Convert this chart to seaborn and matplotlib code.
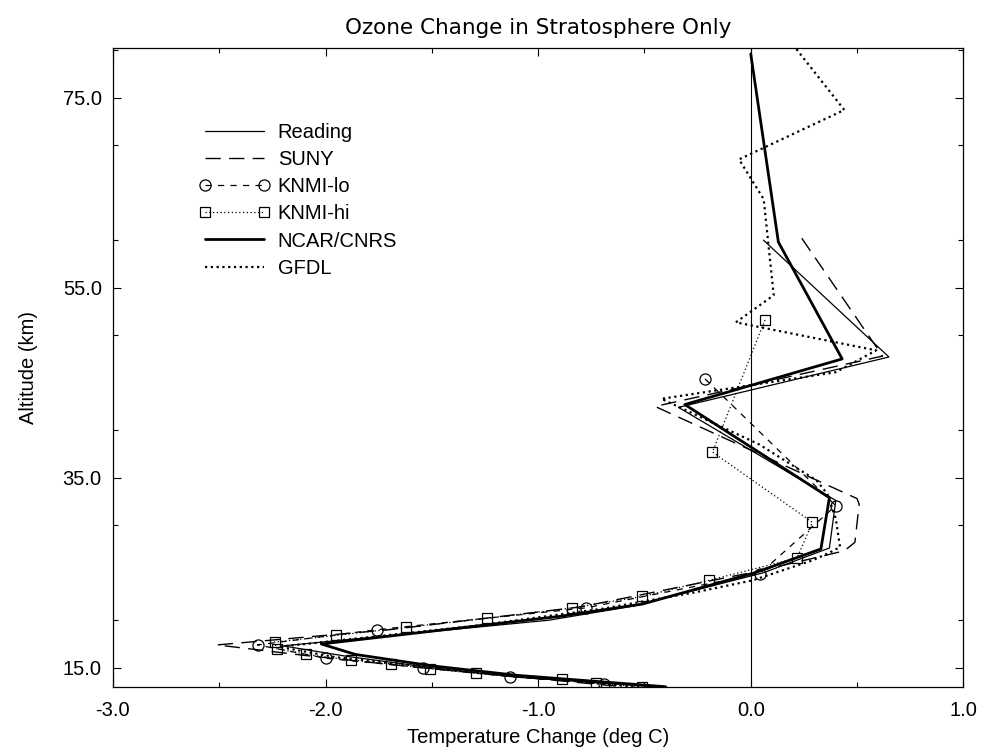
import matplotlib
matplotlib.use("Agg")
import matplotlib.pyplot as plt
import seaborn as sns
import pandas as pd
from matplotlib.ticker import MultipleLocator

# ---- data (temperature change in deg C, altitude in km) ----
reading_x = [0.06, 0.65, -0.34, 0.40, 0.37, 0.06, -0.55, -0.95, -2.20, -1.90, -1.50, -1.10, -0.45]
reading_z = [60.0, 47.7, 42.4, 32.6, 27.6, 25.0, 21.5, 20.0, 17.3, 16.2, 15.0, 14.0, 13.0]

suny_x = [0.24, 0.62, -0.45, 0.50, 0.51, 0.49, 0.44, 0.29, 0.00, -0.80, -1.70, -2.51, -2.10, -1.55, -0.60]
suny_z = [60.2, 47.8, 42.5, 32.8, 32.2, 28.2, 27.3, 26.5, 25.0, 21.4, 19.0, 17.4, 16.3, 15.0, 13.0]

knmilo_x = [-0.215, 0.40, 0.042, -0.775, -1.76, -2.32, -2.00, -1.54, -1.13, -0.69]
knmilo_z = [45.4, 32.05, 24.9, 21.3, 19.0, 17.4, 16.0, 15.0, 14.05, 13.3]

knmihi_x = [0.067, -0.18, 0.29, 0.218, -0.196, -0.51, -0.84, -1.24, -1.62, -1.95, -2.24, -2.23,
            -2.09, -1.88, -1.69, -1.51, -1.29, -0.89, -0.73, -0.51]
knmihi_z = [51.6, 37.7, 30.3, 26.55, 24.2, 22.5, 21.3, 20.2, 19.25, 18.4, 17.7, 17.0,
            16.4, 15.8, 15.4, 14.9, 14.4, 13.8, 13.35, 13.0]

ncar_x = [0.00, 0.13, 0.43, -0.31, 0.37, 0.33, 0.02, -0.51, -0.90, -2.02, -1.86, -1.50, -1.10, -0.40]
ncar_z = [79.6, 59.8, 47.5, 42.7, 32.9, 27.5, 25.0, 21.7, 20.4, 17.5, 16.4, 15.2, 14.2, 13.0]

gfdl_x = [0.215, 0.44, -0.055, 0.061, 0.108, -0.07, 0.59, 0.40, -0.42, 0.04, 0.31, 0.36,
          0.40, 0.42, 0.37, 0.29, 0.01, -0.27, -0.70, -1.30, -2.22, -1.95, -1.30, -0.55]
gfdl_z = [80.1, 73.7, 68.5, 64.3, 54.2, 51.35, 48.4, 46.1, 43.3, 38.5, 34.7, 33.3,
          30.7, 27.7, 27.1, 26.3, 24.2, 22.9, 21.2, 19.4, 17.2, 16.1, 14.6, 13.0]

series_names = ["Reading", "SUNY", "KNMI-lo", "KNMI-hi", "NCAR/CNRS", "GFDL"]
x_ticks = [-3.0, -2.0, -1.0, 0.0, 1.0]
y_ticks = [15.0, 35.0, 55.0, 75.0]

styles = {
    "Reading":   dict(lw=0.9, linestyle="-"),
    "SUNY":      dict(lw=1.0, linestyle=(0, (11, 6))),
    "KNMI-lo":   dict(lw=0.9, linestyle=(0, (5, 5)), marker="o", markersize=8,
                      mfc="none", mec="black", mew=0.9),
    "KNMI-hi":   dict(lw=0.9, linestyle=(0, (1, 2)), marker="s", markersize=6.5,
                      mfc="none", mec="black", mew=0.9),
    "NCAR/CNRS": dict(lw=2.0, linestyle="-"),
    "GFDL":      dict(lw=1.6, linestyle=(0, (1, 1.6))),
}

data = {
    "Reading": (reading_x, reading_z),
    "SUNY": (suny_x, suny_z),
    "KNMI-lo": (knmilo_x, knmilo_z),
    "KNMI-hi": (knmihi_x, knmihi_z),
    "NCAR/CNRS": (ncar_x, ncar_z),
    "GFDL": (gfdl_x, gfdl_z),
}

sns.set_theme(style="ticks")
plt.rcParams["font.family"] = ["Liberation Sans", "DejaVu Sans"]
plt.rcParams["text.color"] = "black"
plt.rcParams["axes.labelcolor"] = "black"

fig = plt.figure(figsize=(9.82, 7.53), dpi=100)
ax = fig.add_axes([0.115, 0.088, 0.866, 0.848])

ax.axvline(0.0, color="black", lw=0.8, zorder=1)

for name in series_names:
    xs, zs = data[name]
    df = pd.DataFrame({"dT": xs, "alt": zs})
    sns.lineplot(data=df, x="dT", y="alt", sort=False, estimator=None, ax=ax,
                 color="black", label=name, legend=False, **styles[name])

ax.set_xlim(-3.0, 1.0)
ax.set_ylim(13.0, 80.2)
ax.set_xticks(x_ticks)
ax.set_xticklabels([f"{v:.1f}" for v in x_ticks])
ax.set_yticks(y_ticks)
ax.set_yticklabels([f"{v:.1f}" for v in y_ticks])
ax.xaxis.set_minor_locator(MultipleLocator(0.5))
ax.yaxis.set_minor_locator(MultipleLocator(10))
ax.tick_params(which="major", direction="in", length=6, width=0.8, top=True, right=True,
               labelsize=14.5, colors="black")
ax.tick_params(axis="x", which="major", pad=10)
ax.tick_params(axis="y", which="major", pad=8)
ax.tick_params(which="minor", direction="in", length=3.5, width=0.8, top=True, right=True,
               colors="black")
for sp in ax.spines.values():
    sp.set_linewidth(0.9)
    sp.set_color("black")

ax.set_xlabel("Temperature Change (deg C)", fontsize=14.5, labelpad=6, color="black")
ax.set_ylabel("Altitude (km)", fontsize=14.5, labelpad=18, color="black")
ax.set_title("Ozone Change in Stratosphere Only", fontsize=15.5, pad=10,
             family=["DejaVu Sans"], color="black")

handles = [l for l in ax.get_lines() if l.get_label() in series_names]
leg = ax.legend(handles=handles, labels=[h.get_label() for h in handles], loc="upper left",
                bbox_to_anchor=(0.092, 0.895), frameon=False, fontsize=14.5, numpoints=2,
                handlelength=3.5, handletextpad=0.4, labelspacing=0.4, borderaxespad=0)
for t in leg.get_texts():
    t.set_color("black")

fig.savefig("out.png", dpi=100)
